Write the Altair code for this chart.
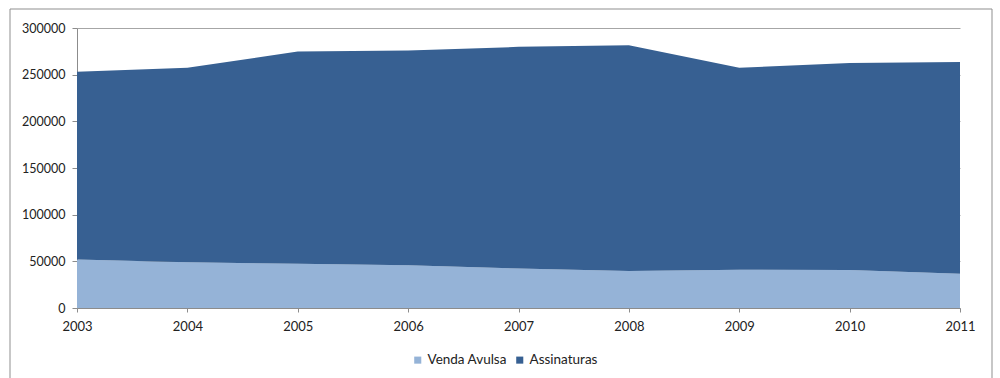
import altair as alt
import pandas as pd

# Circulation by year: single-copy sales and subscriptions
years = [2003, 2004, 2005, 2006, 2007, 2008, 2009, 2010, 2011]
venda_avulsa = [52000, 49000, 47300, 45700, 42300, 39600, 41000, 40700, 36700]
assinaturas = [201000, 208300, 227500, 230200, 237500, 242000, 216300, 221900, 227000]
series_names = ["Venda Avulsa", "Assinaturas"]
y_ticks = [0, 50000, 100000, 150000, 200000, 250000, 300000]

rows = []
for i, yr in enumerate(years):
    rows.append({"ano": yr, "serie": series_names[0], "valor": venda_avulsa[i], "ordem": 0})
    rows.append({"ano": yr, "serie": series_names[1], "valor": assinaturas[i], "ordem": 1})
df = pd.DataFrame(rows)

FONT = "Lato"
AXIS_GRAY = "#8c8c8c"

areas = alt.Chart(df).mark_area(opacity=1).encode(
    x=alt.X(
        "ano:Q",
        scale=alt.Scale(domain=[years[0], years[-1]], nice=False, zero=False),
        axis=alt.Axis(
            values=years, format="d", title=None, grid=False,
            labelFlush=False, tickSize=4, labelPadding=8, labelFontSize=13,
        ),
    ),
    y=alt.Y(
        "valor:Q",
        stack="zero",
        scale=alt.Scale(domain=[0, 300000], nice=False),
        axis=alt.Axis(
            values=y_ticks, format="d", title=None, grid=True,
            gridColor="#a6a6a6", tickSize=5, labelPadding=7, labelFontSize=12.5,
        ),
    ),
    color=alt.Color(
        "serie:N",
        scale=alt.Scale(domain=series_names, range=["#95b3d7", "#376092"]),
        legend=alt.Legend(
            title=None, orient="none", direction="horizontal",
            legendX=334, legendY=325, symbolType="square", symbolSize=50,
            symbolStrokeWidth=0, labelFontSize=13.5, labelFont=FONT,
            labelColor="#222222", columnPadding=6, labelOffset=3,
        ),
    ),
    order=alt.Order("ordem:Q"),
)

# Thin frame around the whole chart
frame = alt.Chart(pd.DataFrame({"k": [0]})).mark_rect(
    fill=None, stroke="#8f8f8f", strokeWidth=1, clip=False
).encode(
    x=alt.value(-67), x2=alt.value(915), y=alt.value(-19), y2=alt.value(380)
)

chart = alt.layer(areas, frame).properties(
    width=883, height=280,
    autosize=alt.AutoSizeParams(type="none"),
    padding={"left": 77, "top": 28, "right": 40, "bottom": 70},
    background="white",
).configure_view(stroke=None).configure_axis(
    domainColor=AXIS_GRAY, tickColor=AXIS_GRAY, labelFont=FONT,
    labelColor="#222222",
)

chart.save("out.html", embed_options={"renderer": "svg", "actions": False})
